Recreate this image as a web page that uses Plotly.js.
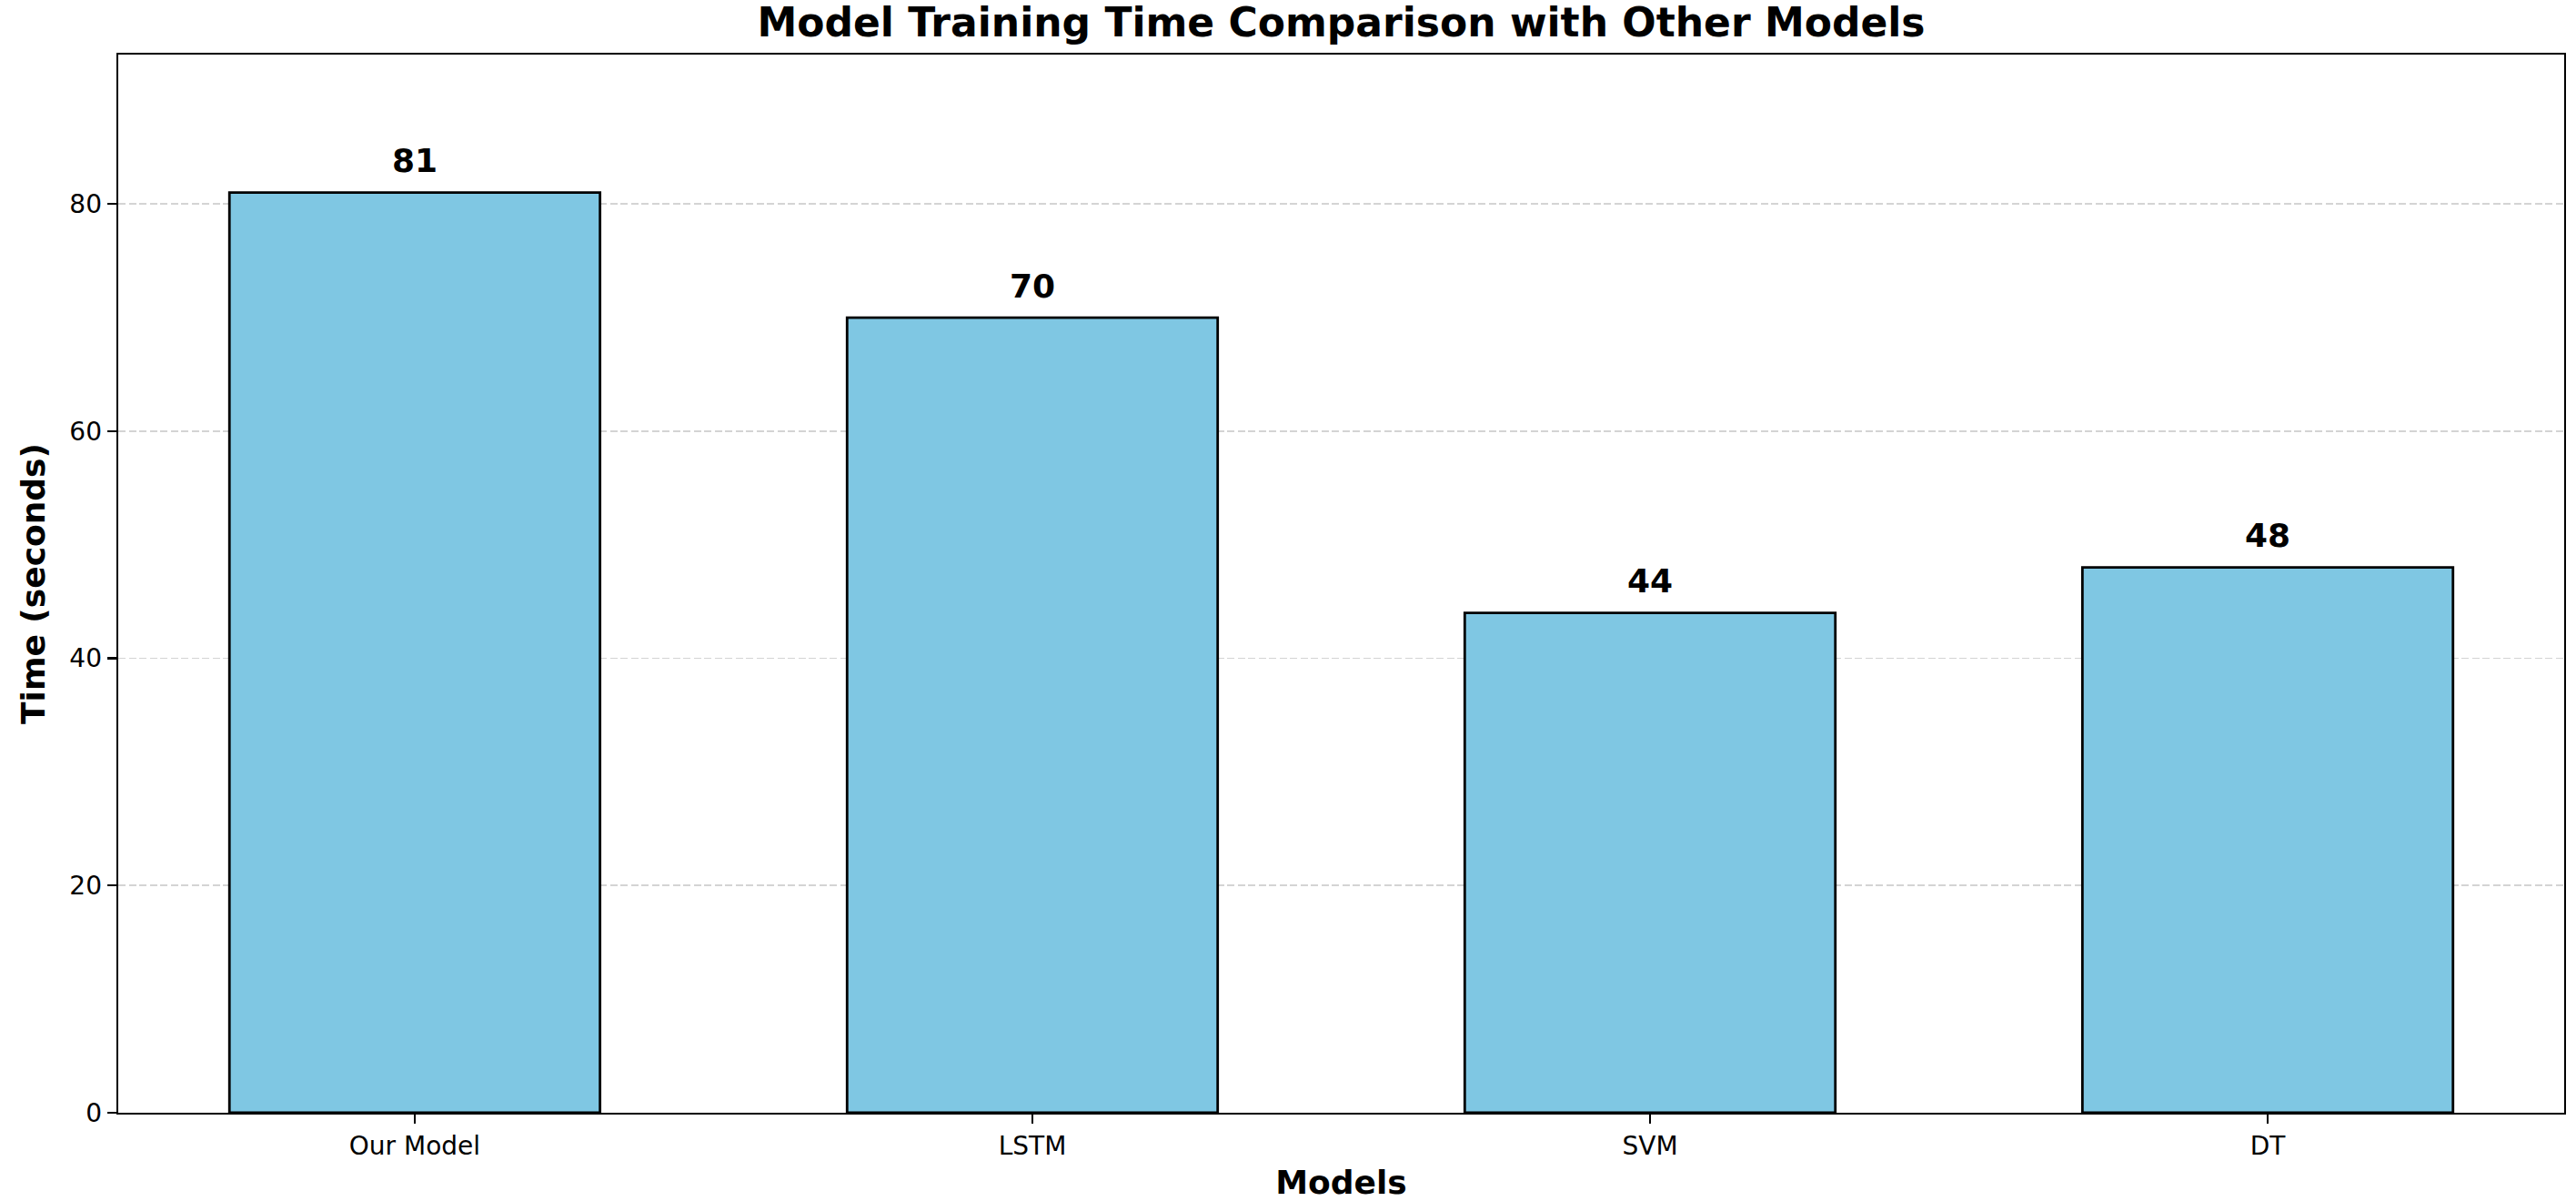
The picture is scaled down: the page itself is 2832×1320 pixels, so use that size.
<!DOCTYPE html>
<html>
<head>
<meta charset="utf-8">
<script src="https://cdn.plot.ly/plotly-3.0.1.min.js"></script>
<style>
  html, body { margin:0; padding:0; background:#fff; }
  #chart { width:2832px; height:1320px; }
</style>
</head>
<body>
<div id="chart"></div>
<script>
// ── Training time per model ─────────────────────────────────────────────
const models = ['Our Model', 'LSTM', 'SVM', 'DT'];
const times = [81, 70, 44, 48];
const yTicks = [0, 20, 40, 60, 80];

const FONT = 'DejaVu Sans, sans-serif';
const yMax = Math.max(...times) * 1.15;

const trace = {
  type:'bar', x:models.map((_,i)=>i), y:times,
  width:0.6,
  marker:{color:'#7fc7e3', line:{color:'#000', width:2.8}},
  hoverinfo:'skip'
};

// value labels just above each bar
const labels = times.map((v,i)=>({
  x:i, y:v+1, xref:'x', yref:'y', text:`<b>${v}</b>`, showarrow:false,
  yanchor:'bottom', font:{family:FONT, size:36, color:'#000'}
}));

const layout = {
  width:2832, height:1320,
  margin:{l:130, r:13, t:60, b:97},
  paper_bgcolor:'#fff', plot_bgcolor:'#fff',
  font:{family:FONT, color:'#000', size:28},
  showlegend:false,
  title:{text:'<b>Model Training Time Comparison with Other Models</b>',
         font:{family:FONT, size:44, color:'#000'},
         x:0.5, xref:'paper', y:1-25/1320, yref:'container', yanchor:'middle'},
  xaxis:{
    range:[-0.48, 3.48], tickvals:models.map((_,i)=>i), ticktext:models,
    showgrid:false, zeroline:false,
    showline:true, mirror:true, linecolor:'#000', linewidth:2.4,
    ticks:'outside', ticklen:10, tickwidth:2.2, tickcolor:'#000',
    tickfont:{size:28, color:'#000'},
    title:{text:'<b>Models</b>', font:{size:36, color:'#000'}, standoff:12}
  },
  yaxis:{
    range:[0, yMax], tickvals:yTicks,
    showgrid:true, gridcolor:'#d4d4d4', gridwidth:1.8, griddash:'8px,3.5px',
    zeroline:false,
    showline:true, mirror:true, linecolor:'#000', linewidth:2.4,
    ticks:'outside', ticklen:10, tickwidth:2.2, tickcolor:'#000',
    tickfont:{size:28, color:'#000'},
    title:{text:'<b>Time (seconds)</b>', font:{size:36, color:'#000'}, standoff:16}
  },
  annotations:labels
};

Plotly.newPlot('chart', [trace], layout, {displayModeBar:false, staticPlot:true});
</script>
</body>
</html>
